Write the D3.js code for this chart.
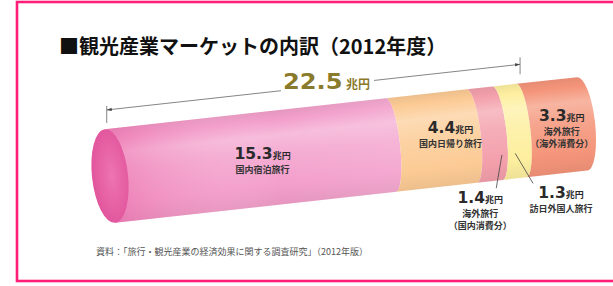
<!DOCTYPE html>
<html><head><meta charset="utf-8">
<script src="https://cdn.jsdelivr.net/npm/d3@7"></script>
<style>
html,body{margin:0;padding:0;background:#fff;}
svg{display:block;}
text{font-family:"Noto Sans CJK JP","Noto Sans",sans-serif;}
</style></head>
<body>
<svg id="chart" width="613" height="286"></svg>
<script>
// ---- data ----
const title = "■観光産業マーケットの内訳（2012年度）";
const source = "資料：「旅行・観光産業の経済効果に関する調査研究」（2012年版）";
const unit = "兆円";
const segKeys = ["domStay", "domDay", "outDom", "inbound", "outAbroad"];
const segValues = [15.3, 4.4, 1.4, 1.3, 3.3];
const segLabels = [["国内宿泊旅行"], ["国内日帰り旅行"], ["海外旅行", "（国内消費分）"], ["訪日外国人旅行"], ["海外旅行", "（海外消費分）"]];
const domesticTotal = 22.5;
const segColors = ["#f299c8", "#fccb95", "#f3a0ab", "#fdef9f", "#f4957a"];

// ---- layout ----
const svg = d3.select("#chart");
const numFont = "'DejaVu Sans','Liberation Sans',sans-serif";
const cx0 = 110, cy0 = 176;           // centre of the left end cap
const angle = 6.3;                     // tilt of the tube (deg)
const R = 47;                          // tube radius (screen)
const capRx = 18, arcRx = 9, endRx = 13;
const a = angle * Math.PI / 180;
const toScreen = (u, v) => [cx0 + u * Math.cos(a) + v * Math.sin(a), cy0 - u * Math.sin(a) + v * Math.cos(a)];

const cum = [0];
segValues.forEach(v => cum.push(cum[cum.length - 1] + v));
const x = d3.scaleLinear().domain([0, cum[cum.length - 1]]).range([0, 475]);

// frame
svg.append("rect").attr("x", 17).attr("y", 2).attr("width", 680).attr("height", 279)
  .attr("fill", "none").attr("stroke", "#ff1f79").attr("stroke-width", 2.6);

// title
svg.append("text").attr("x", 59).attr("y", 54).attr("font-size", 20).attr("font-weight", 700)
  .attr("fill", "#111").text(title);

// defs
const defs = svg.append("defs");
segColors.forEach((c, i) => {
  const g = defs.append("linearGradient").attr("id", "g" + i)
    .attr("gradientUnits", "userSpaceOnUse").attr("x1", 0).attr("y1", -R).attr("x2", 0).attr("y2", R);
  const white = d3.interpolateRgb(c, "#fff");
  const dark = d3.interpolateRgb(c, d3.color(c).darker(0.6).formatHex());
  [[0, dark(0.3)], [0.1, c], [0.26, white(0.3)], [0.45, white(0.15)], [0.8, c], [1, dark(0.3)]]
    .forEach(([o, col]) => g.append("stop").attr("offset", o).attr("stop-color", col));
});
const capG = defs.append("radialGradient").attr("id", "cap").attr("cx", "55%").attr("cy", "50%").attr("r", "60%");
capG.append("stop").attr("offset", 0).attr("stop-color", "#ee74b2");
capG.append("stop").attr("offset", 1).attr("stop-color", "#e0529a");
const sheen = defs.append("linearGradient").attr("id", "sheen")
  .attr("gradientUnits", "userSpaceOnUse").attr("x1", 0).attr("y1", 0).attr("x2", x(segValues[0])).attr("y2", 0);
sheen.append("stop").attr("offset", 0).attr("stop-color", "#e8559c").attr("stop-opacity", 0.4);
sheen.append("stop").attr("offset", 0.6).attr("stop-color", "#ffffff").attr("stop-opacity", 0.05);
sheen.append("stop").attr("offset", 1).attr("stop-color", "#ffffff").attr("stop-opacity", 0.15);

// tube
const tube = svg.append("g").attr("transform", `translate(${cx0},${cy0}) rotate(${-angle})`);
const segPath = (u0, u1, rx1) => `M${u0},${-R}L${u1},${-R}A${rx1},${R} 0 0 1 ${u1},${R}L${u0},${R}A${arcRx},${R} 0 0 0 ${u0},${-R}Z`;
segValues.forEach((v, i) => {
  const u0 = x(cum[i]), u1 = x(cum[i + 1]);
  const last = i === segValues.length - 1;
  tube.append("path").attr("d", segPath(u0, u1, last ? endRx : arcRx)).attr("fill", `url(#g${i})`);
  if (i === 0) tube.append("path").attr("d", segPath(u0, u1, arcRx)).attr("fill", "url(#sheen)");
});
tube.append("ellipse").attr("cx", 0).attr("cy", 0).attr("rx", capRx).attr("ry", R).attr("fill", "url(#cap)");

// dimension line for domestic total
const dimV = -66;
const [ax0, ay0] = toScreen(x(0) + 4, dimV);
const [ax1, ay1] = toScreen(x(domesticTotal) + 4, dimV);
const dim = svg.append("g").attr("stroke", "#666").attr("stroke-width", 0.8).attr("fill", "none");
dim.append("line").attr("x1", ax0).attr("y1", ay0).attr("x2", ax1).attr("y2", ay1);
dim.append("line").attr("x1", ax0).attr("y1", ay0 - 4).attr("x2", ax0).attr("y2", ay0 + 13);
dim.append("line").attr("x1", ax1).attr("y1", ay1 - 7).attr("x2", ax1).attr("y2", ay1 + 10);
const ang = Math.atan2(ay1 - ay0, ax1 - ax0);
[[ax0, ay0, ang], [ax1, ay1, ang + Math.PI]].forEach(([px, py, t]) => {
  const p1 = [px + 5 * Math.cos(t) - 1.6 * Math.sin(t), py + 5 * Math.sin(t) + 1.6 * Math.cos(t)];
  const p2 = [px + 5 * Math.cos(t) + 1.6 * Math.sin(t), py + 5 * Math.sin(t) - 1.6 * Math.cos(t)];
  svg.append("path").attr("d", `M${px},${py}L${p1}L${p2}Z`).attr("fill", "#444");
});
// total label
const tl = svg.append("g").attr("transform", "translate(283,89)");
tl.append("rect").attr("x", -2).attr("y", -19).attr("width", 93).attr("height", 23).attr("fill", "#fff");
tl.append("text").attr("transform", "scale(1.15,1)").attr("fill", "#8a7a2c").attr("font-weight", 700)
  .attr("font-size", 21).style("font-family", numFont).text(d3.format(".1f")(domesticTotal));
tl.append("text").attr("x", 63).attr("fill", "#8a7a2c").attr("font-weight", 700).attr("font-size", 12).text(unit);

// value labels
function valueLabel(cx, cy, i) {
  const g = svg.append("g").attr("transform", `translate(${cx},${cy})`);
  const t = g.append("text").attr("text-anchor", "middle").attr("fill", "#2a2a2a").attr("font-weight", 700);
  t.append("tspan").attr("font-size", 15.5).style("font-family", numFont).text(d3.format(".1f")(segValues[i]));
  t.append("tspan").attr("font-size", 9).text(unit);
  segLabels[i].forEach((s, k) => {
    g.append("text").attr("text-anchor", "middle").attr("y", 14 + k * 12).attr("font-size", 9)
      .attr("font-weight", 700).attr("fill", "#333").text(s);
  });
}
const mid = i => (x(cum[i]) + x(cum[i + 1])) / 2;
// inside labels (offsets relative to the segment centre on screen)
[[0, 12, -1], [1, 19, -8], [4, 10, -6]].forEach(([i, dx, dy]) => {
  const [sx, sy] = toScreen(mid(i), 0);
  valueLabel(sx + dx, sy + dy, i);
});
// outside labels with leader lines
[[2, [-9, 69], 0.9], [3, [47, 67], 0.45]].forEach(([i, lp, f]) => {
  const [sx, sy] = toScreen(mid(i) + arcRx / 2, 0);
  const [tx, ty] = toScreen(x(cum[i]) + (x(cum[i + 1]) - x(cum[i])) * f + arcRx * 0.5, 22);
  const lx = sx + lp[0], ly = sy + lp[1];
  const bx = i === 2 ? lx + 16 : lx - 28;
  svg.append("line").attr("x1", tx).attr("y1", ty).attr("x2", bx).attr("y2", ly - 15)
    .attr("stroke", "#444").attr("stroke-width", 0.8);
  valueLabel(lx, ly, i);
});

// source
svg.append("text").attr("x", 96).attr("y", 255).attr("font-size", 9).attr("fill", "#555").text(source);
</script>
</body></html>
